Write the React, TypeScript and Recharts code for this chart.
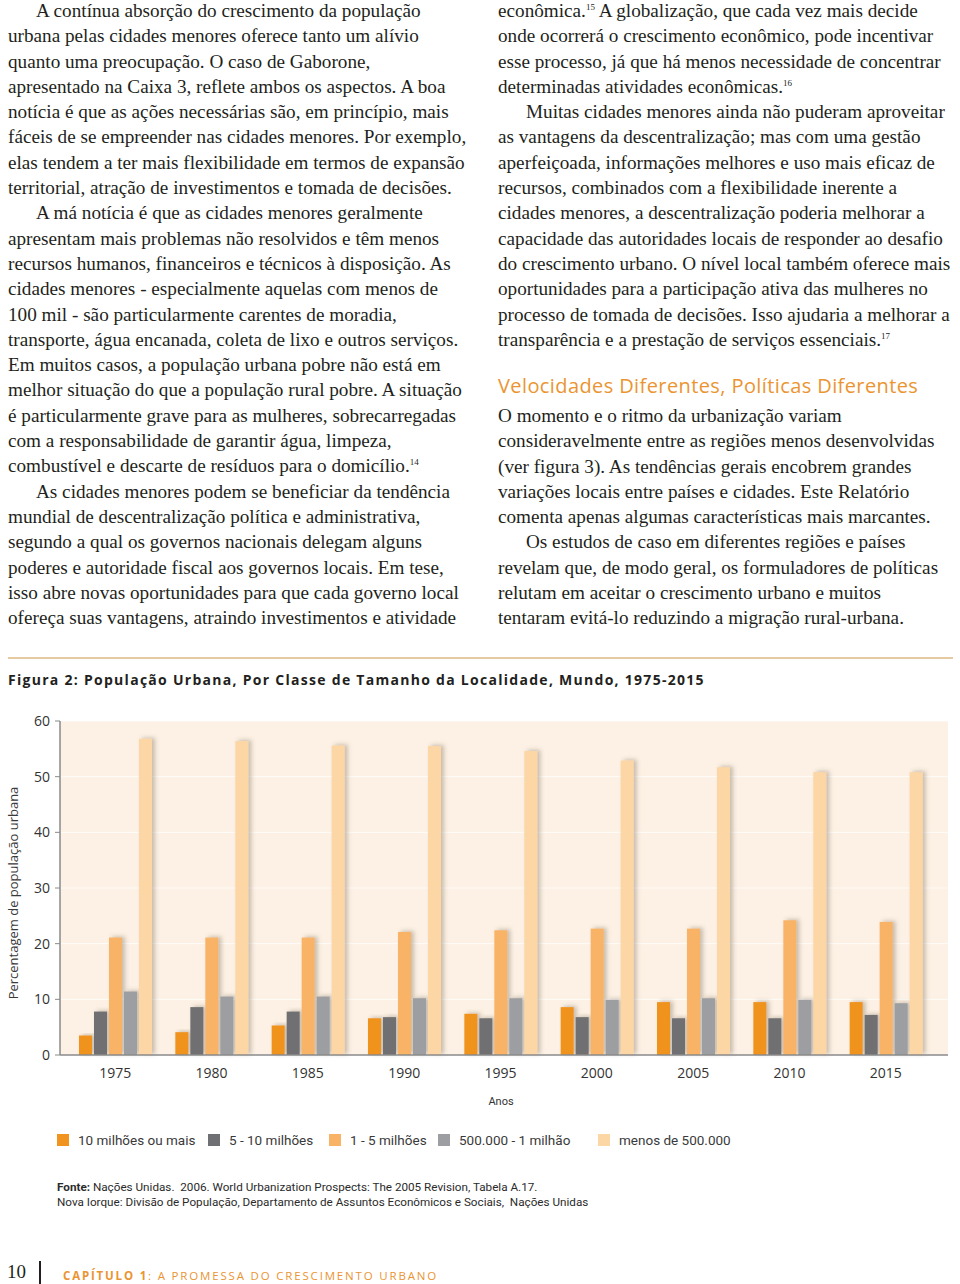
import React from "react";
import { BarChart, Bar, XAxis, YAxis, CartesianGrid } from "recharts";

// Figura 2 data (percent of urban population)
const YEARS = ["1975", "1980", "1985", "1990", "1995", "2000", "2005", "2010", "2015"];
const TEN_MILLION_PLUS = [3.5, 4.1, 5.3, 6.6, 7.4, 8.6, 9.5, 9.5, 9.5];
const FIVE_TO_TEN = [7.8, 8.6, 7.8, 6.8, 6.6, 6.8, 6.6, 6.6, 7.2];
const ONE_TO_FIVE = [21.1, 21.1, 21.1, 22.1, 22.4, 22.7, 22.7, 24.2, 23.9];
const HALF_TO_ONE = [11.4, 10.5, 10.5, 10.2, 10.2, 9.9, 10.2, 9.9, 9.3];
const UNDER_HALF = [56.8, 56.4, 55.6, 55.5, 54.6, 52.9, 51.7, 50.8, 50.8];
const Y_TICKS = [0, 10, 20, 30, 40, 50, 60];

const SERIES = [
  { key: "a", label: "10 milhões ou mais", color: "#F0931F", values: TEN_MILLION_PLUS },
  { key: "b", label: "5 - 10 milhões", color: "#6F7073", values: FIVE_TO_TEN },
  { key: "c", label: "1 - 5 milhões", color: "#F8B366", values: ONE_TO_FIVE },
  { key: "d", label: "500.000 - 1 milhão", color: "#9C9EA1", values: HALF_TO_ONE },
  { key: "e", label: "menos de 500.000", color: "#FDD6A6", values: UNDER_HALF },
];

const LEFT_LINES = [
  "A contínua absorção do crescimento da população",
  "urbana pelas cidades menores oferece tanto um alívio",
  "quanto uma preocupação. O caso de Gaborone,",
  "apresentado na Caixa 3, reflete ambos os aspectos. A boa",
  "notícia é que as ações necessárias são, em princípio, mais",
  "fáceis de se empreender nas cidades menores. Por exemplo,",
  "elas tendem a ter mais flexibilidade em termos de expansão",
  "territorial, atração de investimentos e tomada de decisões.",
  "A má notícia é que as cidades menores geralmente",
  "apresentam mais problemas não resolvidos e têm menos",
  "recursos humanos, financeiros e técnicos à disposição. As",
  "cidades menores - especialmente aquelas com menos de",
  "100 mil - são particularmente carentes de moradia,",
  "transporte, água encanada, coleta de lixo e outros serviços.",
  "Em muitos casos, a população urbana pobre não está em",
  "melhor situação do que a população rural pobre. A situação",
  "é particularmente grave para as mulheres, sobrecarregadas",
  "com a responsabilidade de garantir água, limpeza,",
  "combustível e descarte de resíduos para o domicílio.|14",
  "As cidades menores podem se beneficiar da tendência",
  "mundial de descentralização política e administrativa,",
  "segundo a qual os governos nacionais delegam alguns",
  "poderes e autoridade fiscal aos governos locais. Em tese,",
  "isso abre novas oportunidades para que cada governo local",
  "ofereça suas vantagens, atraindo investimentos e atividade",
];
const LEFT_INDENTS = [0, 8, 19];

const RIGHT_LINES = [
  "econômica.|15| A globalização, que cada vez mais decide",
  "onde ocorrerá o crescimento econômico, pode incentivar",
  "esse processo, já que há menos necessidade de concentrar",
  "determinadas atividades econômicas.|16",
  "Muitas cidades menores ainda não puderam aproveitar",
  "as vantagens da descentralização; mas com uma gestão",
  "aperfeiçoada, informações melhores e uso mais eficaz de",
  "recursos, combinados com a flexibilidade inerente a",
  "cidades menores, a descentralização poderia melhorar a",
  "capacidade das autoridades locais de responder ao desafio",
  "do crescimento urbano. O nível local também oferece mais",
  "oportunidades para a participação ativa das mulheres no",
  "processo de tomada de decisões. Isso ajudaria a melhorar a",
  "transparência e a prestação de serviços essenciais.|17",
];
const RIGHT_INDENTS = [4];

const HEADING = "Velocidades Diferentes, Políticas Diferentes";
const SECTION_LINES = [
  "O momento e o ritmo da urbanização variam",
  "consideravelmente entre as regiões menos desenvolvidas",
  "(ver figura 3). As tendências gerais encobrem grandes",
  "variações locais entre países e cidades. Este Relatório",
  "comenta apenas algumas características mais marcantes.",
  "Os estudos de caso em diferentes regiões e países",
  "revelam que, de modo geral, os formuladores de políticas",
  "relutam em aceitar o crescimento urbano e muitos",
  "tentaram evitá-lo reduzindo a migração rural-urbana.",
];
const SECTION_INDENTS = [5];

const FIG_TITLE =
  "Figura 2: População Urbana, Por Classe de Tamanho da Localidade, Mundo, 1975-2015";
const Y_LABEL = "Percentagem de população urbana";
const X_LABEL = "Anos";
const SOURCE_1 = " Nações Unidas.  2006. World Urbanization Prospects: The 2005 Revision, Tabela A.17.";
const SOURCE_2 =
  "Nova Iorque: Divisão de População, Departamento de Assuntos Econômicos e Sociais,  Nações Unidas";

const data = YEARS.map((year, i) => {
  const row: Record<string, string | number> = { year };
  SERIES.forEach((s) => (row[s.key] = s.values[i]));
  return row;
});

const LINE_H = 25.3;
const SERIF = '"Liberation Serif", "Times New Roman", serif';
const SANS = '"Open Sans", sans-serif';
const ORANGE = "#EA9532";

function TextLine({ text }: { text: string }) {
  // "|nn" marks a footnote superscript
  const parts = text.split("|");
  return (
    <>
      {parts.map((p, i) =>
        i % 2 === 1 ? (
          <sup key={i} style={{ fontSize: 9, verticalAlign: "top", lineHeight: "18px" }}>
            {p}
          </sup>
        ) : (
          <span key={i}>{p}</span>
        )
      )}
    </>
  );
}

function Column({
  lines,
  indents,
  left,
  top,
}: {
  lines: string[];
  indents: number[];
  left: number;
  top: number;
}) {
  return (
    <div style={{ position: "absolute", left, top, fontFamily: SERIF, fontSize: 19.2, color: "#231f20" }}>
      {lines.map((l, i) => (
        <div
          key={i}
          style={{
            height: LINE_H,
            lineHeight: `${LINE_H}px`,
            whiteSpace: "nowrap",
            paddingLeft: indents.includes(i) ? 28 : 0,
          }}
        >
          <TextLine text={l} />
        </div>
      ))}
    </div>
  );
}

function ShadowBar(props: any) {
  const { x, y, width, height, fill } = props;
  if (!height || height <= 0) return null;
  return <rect x={x} y={y} width={width} height={height} fill={fill} filter="url(#barShadow)" />;
}

const LEGEND_X = [57, 208, 329, 438, 598];

export default function App() {
  return (
    <div
      style={{
        position: "absolute",
        left: 0,
        top: 0,
        width: 960,
        height: 1284,
        background: "#fff",
        overflow: "hidden",
      }}
    >
      <Column lines={LEFT_LINES} indents={LEFT_INDENTS} left={8} top={-2} />
      <Column lines={RIGHT_LINES} indents={RIGHT_INDENTS} left={498} top={-2} />
      <div
        style={{
          position: "absolute",
          left: 498,
          top: 372,
          fontFamily: SANS,
          fontSize: 20,
          letterSpacing: 0.4,
          color: ORANGE,
          whiteSpace: "nowrap",
          lineHeight: "28px",
        }}
      >
        {HEADING}
      </div>
      <Column lines={SECTION_LINES} indents={SECTION_INDENTS} left={498} top={403} />

      <div style={{ position: "absolute", left: 8, top: 657, width: 945, height: 2, background: "#E6CBA2" }} />

      <div
        style={{
          position: "absolute",
          left: 8,
          top: 670,
          fontFamily: SANS,
          fontWeight: 700,
          fontSize: 14,
          letterSpacing: 1.28,
          color: "#231f20",
          whiteSpace: "nowrap",
        }}
      >
        {FIG_TITLE}
      </div>

      <div
        style={{
          position: "absolute",
          left: 13,
          top: 893,
          transform: "translate(-50%, -50%) rotate(-90deg)",
          fontFamily: SANS,
          fontSize: 13,
          color: "#3a3a3a",
          whiteSpace: "nowrap",
        }}
      >
        {Y_LABEL}
      </div>

      <div style={{ position: "absolute", left: 0, top: 700 }}>
        <BarChart
          width={960}
          height={390}
          data={data}
          margin={{ top: 21, right: 12, left: 0, bottom: 0 }}
          barSize={13}
          barGap={2}
        >
          <defs>
            <filter id="barShadow" x="-50%" y="-10%" width="220%" height="120%">
              <feDropShadow dx="3" dy="-1" stdDeviation="2.2" floodColor="#6b5a48" floodOpacity="0.35" />
            </filter>
          </defs>
          <CartesianGrid
            vertical={false}
            fill="#FCF1E4"
            stroke="#ffffff"
            strokeOpacity={0.8}
          />
          <XAxis
            dataKey="year"
            padding={{ left: 7, right: 14 }}
            height={35}
            tickLine={false}
            axisLine={{ stroke: "#8a8a8a", strokeWidth: 1.5 }}
            tick={{ fontSize: 14, fill: "#333", fontFamily: SANS }}
            tickSize={6}
            tickMargin={7}
          />
          <YAxis
            width={60}
            domain={[0, 60]}
            ticks={Y_TICKS}
            interval={0}
            axisLine={{ stroke: "#8a8a8a", strokeWidth: 1.5 }}
            tickLine={{ stroke: "#8a8a8a" }}
            tickSize={5}
            tickMargin={5}
            tick={{ fontSize: 14, fill: "#333", fontFamily: SANS }}
          />
          {SERIES.map((s) => (
            <Bar
              key={s.key}
              dataKey={s.key}
              name={s.label}
              fill={s.color}
              shape={ShadowBar}
              isAnimationActive={false}
            />
          ))}
        </BarChart>
      </div>

      <div
        style={{
          position: "absolute",
          left: 501,
          top: 1101,
          transform: "translate(-50%, -50%)",
          fontFamily: "Roboto, sans-serif",
          fontSize: 11,
          color: "#333",
        }}
      >
        {X_LABEL}
      </div>

      {SERIES.map((s, i) => (
        <div
          key={s.key}
          style={{
            position: "absolute",
            left: LEGEND_X[i],
            top: 1131,
            display: "flex",
            alignItems: "center",
            fontFamily: "Roboto, sans-serif",
            fontSize: 13.5,
            color: "#3a3a3a",
            whiteSpace: "nowrap",
            height: 18,
          }}
        >
          <span style={{ display: "inline-block", width: 12, height: 12, background: s.color, marginRight: 9 }} />
          {s.label}
        </div>
      ))}

      <div
        style={{
          position: "absolute",
          left: 57,
          top: 1180,
          fontFamily: "Roboto, sans-serif",
          fontSize: 11.7,
          lineHeight: "14.5px",
          color: "#2b2b2b",
          whiteSpace: "pre",
        }}
      >
        <div>
          <b>Fonte:</b>
          {SOURCE_1}
        </div>
        <div>{SOURCE_2}</div>
      </div>

      <div
        style={{
          position: "absolute",
          left: 7,
          top: 1261,
          fontFamily: SERIF,
          fontSize: 19,
          color: "#231f20",
          lineHeight: "22px",
        }}
      >
        10
      </div>
      <div style={{ position: "absolute", left: 39, top: 1261, width: 1.5, height: 23, background: "#231f20" }} />
      <div
        style={{
          position: "absolute",
          left: 63,
          top: 1268,
          fontFamily: SANS,
          fontSize: 11.5,
          letterSpacing: 1.82,
          color: ORANGE,
          whiteSpace: "nowrap",
          lineHeight: "16px",
        }}
      >
        <b>CAPÍTULO 1</b>: A PROMESSA DO CRESCIMENTO URBANO
      </div>
    </div>
  );
}
